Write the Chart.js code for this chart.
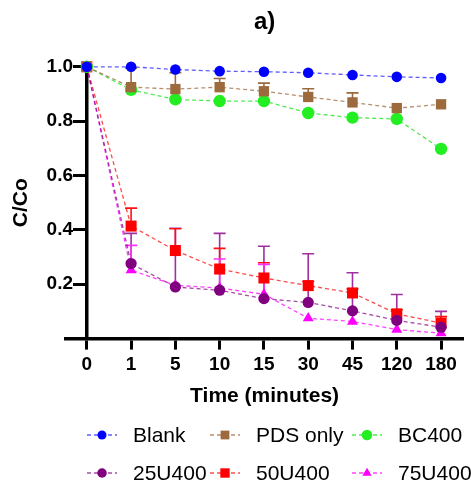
<!DOCTYPE html>
<html>
<head>
<meta charset="utf-8">
<script src="https://cdn.jsdelivr.net/npm/chart.js"></script>
<style>
  body { margin: 0; background: #fff; }
  #wrap { position: relative; width: 471px; height: 481px; }
  #legend {
    position: absolute; left: 87px; top: 423px;
    display: grid; grid-template-columns: 123px 142px auto;
    grid-auto-rows: 24px; row-gap: 14px;
    font: 21px "Liberation Sans", Arial, sans-serif; color: #000;
  }
  .item { display: flex; align-items: center; white-space: nowrap; line-height: 24px; }
  .item canvas { margin-right: 16px; }
</style>
</head>
<body>
<div id="wrap">
  <canvas id="chart" width="471" height="481"></canvas>
  <div id="legend"></div>
</div>
<script>
const times = ['0', '1', '5', '10', '15', '30', '45', '120', '180'];

const blank = [1.0, 1.0, 0.99, 0.984, 0.982, 0.978, 0.97, 0.963, 0.959];
const pdsOnly = [1.0, 0.925, 0.918, 0.925, 0.91, 0.889, 0.869, 0.848, 0.862];
const pdsOnlyErr = [0, 0.07, 0.06, 0.032, 0.03, 0.03, 0.035, 0, 0];
const bc400 = [1.0, 0.915, 0.88, 0.874, 0.874, 0.83, 0.813, 0.808, 0.698];
const u25 = [1.0, 0.276, 0.19, 0.178, 0.147, 0.133, 0.102, 0.067, 0.042];
const u25Err = [0, 0.111, 0.216, 0.209, 0.193, 0.179, 0.14, 0.095, 0.058];
const u50 = [1.0, 0.414, 0.324, 0.256, 0.223, 0.195, 0.168, 0.091, 0.057];
const u50Err = [0, 0.066, 0.08, 0.076, 0.056, 0.015, 0.015, 0.015, 0.024];
const u75 = [1.0, 0.252, 0.196, 0.186, 0.163, 0.075, 0.063, 0.033, 0.02];
const u75Err = [0, 0.091, 0, 0.107, 0.11, 0, 0, 0, 0];

const FONT = '"Liberation Sans", Arial, sans-serif';

function series(label, values, errors, color, lineColor, errColor, style, radius) {
  return {
    label: label,
    data: values.map((v, i) => ({x: i, y: v})),
    errors: errors,
    errorColor: errColor,
    borderColor: lineColor,
    backgroundColor: color,
    pointBackgroundColor: color,
    pointBorderWidth: 0,
    pointStyle: style,
    pointRadius: radius,
    borderWidth: 1.3,
    borderDash: [4, 3],
    tension: 0,
    clip: false,
    xAxisID: 'x',
    yAxisID: 'y'
  };
}

// vertical error bars above each point, drawn behind the markers
const errorBars = {
  id: 'errorBars',
  beforeDatasetsDraw(chart) {
    const {ctx, scales: {x, y}} = chart;
    chart.data.datasets.forEach(ds => {
      if (!ds.errors) return;
      ctx.save();
      ctx.strokeStyle = ds.errorColor;
      ctx.lineWidth = 1.6;
      ds.data.forEach((p, j) => {
        const e = ds.errors[j];
        if (!e) return;
        const px = x.getPixelForValue(p.x);
        const base = y.getPixelForValue(p.y);
        const top = y.getPixelForValue(p.y + e);
        ctx.beginPath();
        ctx.moveTo(px, base);
        ctx.lineTo(px, top);
        ctx.moveTo(px - 6, top);
        ctx.lineTo(px + 6, top);
        ctx.stroke();
      });
      ctx.restore();
    });
  }
};

const dropZero = s => { s.ticks = s.ticks.filter(t => t.value > 0.01); };

const chart = new Chart(document.getElementById('chart'), {
  type: 'line',
  data: {
    datasets: [
      series('Blank', blank, null, '#0000ff', 'rgba(40,40,255,0.75)', null, 'circle', 5.3),
      series('PDS only', pdsOnly, pdsOnlyErr, '#9c6a3c', 'rgba(156,106,60,0.75)', '#9c6a3c', 'rect', 7.3),
      series('BC400', bc400, null, '#22ee22', 'rgba(34,230,34,0.8)', null, 'circle', 6.2),
      series('25U400', u25, u25Err, '#800080', 'rgba(128,0,128,0.7)', '#a030a0', 'circle', 5.6),
      series('50U400', u50, u50Err, '#ff0000', 'rgba(255,0,0,0.7)', '#ff1010', 'rect', 7.8),
      series('75U400', u75, u75Err, '#ff00ff', 'rgba(255,0,255,0.75)', '#ff30ff', 'triangle', 6.3)
    ]
  },
  options: {
    responsive: false,
    animation: false,
    layout: { padding: { top: 0, left: 0, right: 0, bottom: 72.4 } },
    plugins: {
      legend: { display: false },
      tooltip: { enabled: false },
      title: {
        display: true,
        text: 'a)',
        fullSize: false,
        color: '#000',
        font: { family: FONT, size: 24, weight: 'bold' },
        padding: { top: 8, bottom: 30 }
      }
    },
    scales: {
      x: {
        type: 'linear',
        position: 'bottom',
        min: -0.47,
        max: 8.5,
        afterBuildTicks: s => { s.ticks = times.map((t, i) => ({value: i})); },
        ticks: {
          callback: v => times[v],
          color: '#000',
          font: { family: FONT, size: 19, weight: 'bold' },
          padding: 4,
          maxRotation: 0,
          autoSkip: false
        },
        grid: { drawOnChartArea: false, drawTicks: true, tickLength: 11, tickWidth: 3, tickColor: '#000' },
        border: { display: true, width: 3.5, color: '#000' },
        title: {
          display: true,
          text: 'Time (minutes)',
          color: '#000',
          font: { family: FONT, size: 21, weight: 'bold' },
          padding: { top: 3, bottom: 0 }
        }
      },
      // axis line and tick marks, placed at time 0
      y: {
        type: 'linear',
        position: { x: 0 },
        min: 0,
        max: 1.0,
        afterBuildTicks: dropZero,
        ticks: { stepSize: 0.2, display: false },
        grid: { drawOnChartArea: false, drawTicks: true, tickLength: 12, tickWidth: 3, tickColor: '#000' },
        border: { display: true, width: 3.5, color: '#000' }
      },
      // tick labels and axis title on the left (mirror keeps the labels unclipped)
      yLabels: {
        type: 'linear',
        axis: 'y',
        position: 'left',
        min: 0,
        max: 1.0,
        afterBuildTicks: dropZero,
        afterFit: s => { s.width = 66; },
        ticks: {
          stepSize: 0.2,
          callback: v => v.toFixed(1),
          color: '#000',
          font: { family: FONT, size: 19, weight: 'bold' },
          mirror: true,
          crossAlign: 'far',
          padding: -19.4
        },
        grid: { display: false, drawTicks: false },
        border: { display: false },
        title: {
          display: true,
          text: 'C/Co',
          color: '#000',
          font: { family: FONT, size: 21, weight: 'bold' },
          padding: { top: 8.4, bottom: 0 }
        }
      }
    }
  },
  plugins: [errorBars]
});

// HTML legend: dashed line with the series marker, then the label
function drawMarker(c, ds) {
  const g = c.getContext('2d');
  const cy = c.height / 2, cx = c.width / 2, r = ds.pointRadius * 0.85;
  g.strokeStyle = ds.borderColor;
  g.lineWidth = 1.3;
  g.setLineDash([4, 3]);
  g.beginPath();
  g.moveTo(0, cy);
  g.lineTo(c.width, cy);
  g.stroke();
  g.setLineDash([]);
  g.fillStyle = ds.pointBackgroundColor;
  g.beginPath();
  if (ds.pointStyle === 'circle') {
    g.arc(cx, cy, r, 0, Math.PI * 2);
  } else if (ds.pointStyle === 'rect') {
    const h = r * Math.SQRT1_2;
    g.rect(cx - h, cy - h, 2 * h, 2 * h);
  } else {
    g.moveTo(cx, cy - r);
    g.lineTo(cx + r * 0.87, cy + r * 0.5);
    g.lineTo(cx - r * 0.87, cy + r * 0.5);
    g.closePath();
  }
  g.fill();
}

const legendBox = document.getElementById('legend');
chart.data.datasets.forEach(ds => {
  const item = document.createElement('div');
  item.className = 'item';
  const c = document.createElement('canvas');
  c.width = 30;
  c.height = 16;
  drawMarker(c, ds);
  const span = document.createElement('span');
  span.textContent = ds.label;
  item.appendChild(c);
  item.appendChild(span);
  legendBox.appendChild(item);
});
</script>
</body>
</html>
